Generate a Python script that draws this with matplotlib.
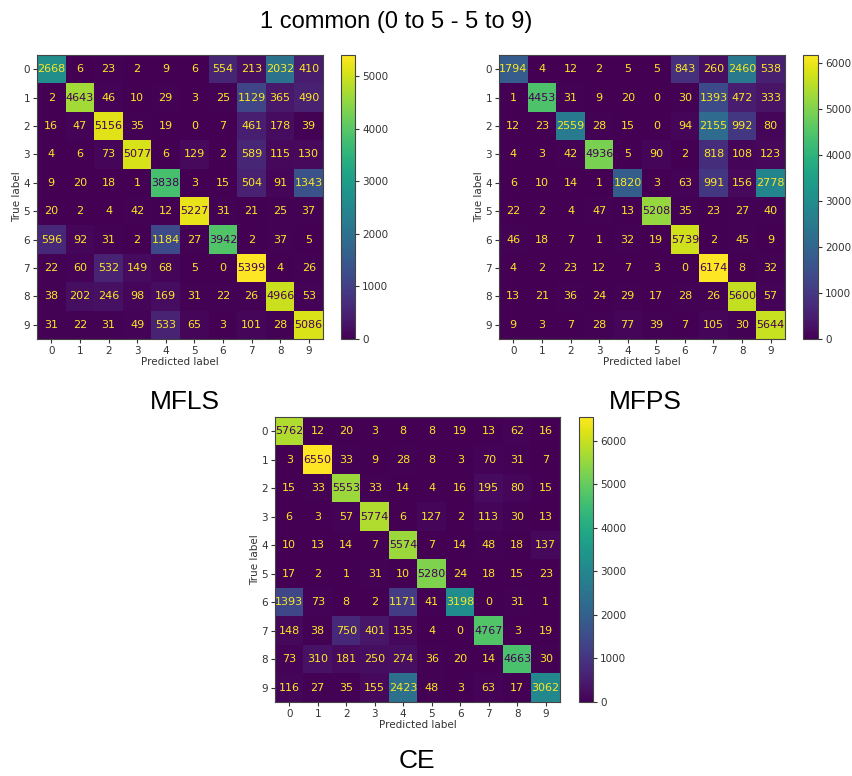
import numpy as np
import matplotlib
matplotlib.use("Agg")
import matplotlib.pyplot as plt

classes = [str(i) for i in range(10)]

mfls = [
    [2668, 6, 23, 2, 9, 6, 554, 213, 2032, 410],
    [2, 4643, 46, 10, 29, 3, 25, 1129, 365, 490],
    [16, 47, 5156, 35, 19, 0, 7, 461, 178, 39],
    [4, 6, 73, 5077, 6, 129, 2, 589, 115, 130],
    [9, 20, 18, 1, 3838, 3, 15, 504, 91, 1343],
    [20, 2, 4, 42, 12, 5227, 31, 21, 25, 37],
    [596, 92, 31, 2, 1184, 27, 3942, 2, 37, 5],
    [22, 60, 532, 149, 68, 5, 0, 5399, 4, 26],
    [38, 202, 246, 98, 169, 31, 22, 26, 4966, 53],
    [31, 22, 31, 49, 533, 65, 3, 101, 28, 5086],
]

mfps = [
    [1794, 4, 12, 2, 5, 5, 843, 260, 2460, 538],
    [1, 4453, 31, 9, 20, 0, 30, 1393, 472, 333],
    [12, 23, 2559, 28, 15, 0, 94, 2155, 992, 80],
    [4, 3, 42, 4936, 5, 90, 2, 818, 108, 123],
    [6, 10, 14, 1, 1820, 3, 63, 991, 156, 2778],
    [22, 2, 4, 47, 13, 5208, 35, 23, 27, 40],
    [46, 18, 7, 1, 32, 19, 5739, 2, 45, 9],
    [4, 2, 23, 12, 7, 3, 0, 6174, 8, 32],
    [13, 21, 36, 24, 29, 17, 28, 26, 5600, 57],
    [9, 3, 7, 28, 77, 39, 7, 105, 30, 5644],
]

ce = [
    [5762, 12, 20, 3, 8, 8, 19, 13, 62, 16],
    [3, 6550, 33, 9, 28, 8, 3, 70, 31, 7],
    [15, 33, 5553, 33, 14, 4, 16, 195, 80, 15],
    [6, 3, 57, 5774, 6, 127, 2, 113, 30, 13],
    [10, 13, 14, 7, 5574, 7, 14, 48, 18, 137],
    [17, 2, 1, 31, 10, 5280, 24, 18, 15, 23],
    [1393, 73, 8, 2, 1171, 41, 3198, 0, 31, 1],
    [148, 38, 750, 401, 135, 4, 0, 4767, 3, 19],
    [73, 310, 181, 250, 274, 36, 20, 14, 4663, 30],
    [116, 27, 35, 155, 2423, 48, 3, 63, 17, 3062],
]

W, H = 853, 776
fig = plt.figure(figsize=(W / 100, H / 100), dpi=100)
cmap = plt.get_cmap("viridis")


def px_box(x0, y0, x1, y1):
    return [x0 / W, 1 - y1 / H, (x1 - x0) / W, (y1 - y0) / H]


def draw_cm(cm, ax_box, cb_box):
    cm = np.array(cm)
    ax = fig.add_axes(px_box(*ax_box))
    cax = fig.add_axes(px_box(*cb_box))
    im = ax.imshow(cm, cmap=cmap, interpolation="nearest", aspect="auto")
    # same text colouring rule as sklearn's ConfusionMatrixDisplay
    thresh = (cm.max() + cm.min()) / 2.0
    for i in range(cm.shape[0]):
        for j in range(cm.shape[1]):
            color = cmap(0.0) if cm[i, j] > thresh else cmap(1.0)
            ax.text(j, i, str(cm[i, j]), ha="center", va="center",
                    color=color, fontsize=8)
    ax.set_xticks(range(10))
    ax.set_yticks(range(10))
    ax.set_xticklabels(classes)
    ax.set_yticklabels(classes)
    ax.tick_params(labelsize=7.5, length=3, pad=2, colors="#333333")
    ax.set_xlabel("Predicted label", fontsize=7.5, labelpad=1, color="#333333")
    ax.set_ylabel("True label", fontsize=7.5, labelpad=1, color="#333333")
    for s in ax.spines.values():
        s.set_color("#444444")
    cb = fig.colorbar(im, cax=cax)
    cb.set_ticks(np.arange(0, cm.max() + 1, 1000))
    cb.ax.tick_params(labelsize=7.5, length=3, pad=2, colors="#333333")
    cb.outline.set_edgecolor("#444444")
    return ax


draw_cm(mfls, (37, 55, 323, 339), (341, 55, 355, 339))
draw_cm(mfps, (499, 55, 785, 339), (803, 55, 818, 339))
draw_cm(ce, (275, 417, 560, 702), (579, 417, 593, 702))

big = dict(family=["Liberation Sans", "DejaVu Sans"], ha="center", va="center")
fig.text(396 / W, 1 - 22 / H, "1 common (0 to 5 - 5 to 9)", fontsize=17, **big)
fig.text(185 / W, 1 - 402 / H, "MFLS", fontsize=19, **big)
fig.text(645 / W, 1 - 402 / H, "MFPS", fontsize=19, **big)
fig.text(417 / W, 1 - 761 / H, "CE", fontsize=19, **big)

fig.savefig("out.png", dpi=100)
